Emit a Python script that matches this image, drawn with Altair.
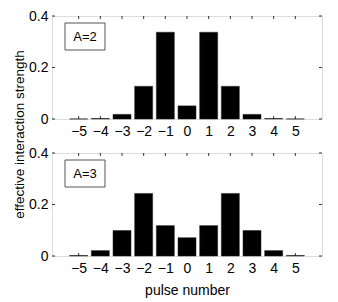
import altair as alt
import pandas as pd

pulses = [-5, -4, -3, -2, -1, 0, 1, 2, 3, 4, 5]
strength_a2 = [0.0003, 0.002, 0.018, 0.127, 0.337, 0.051, 0.337, 0.127, 0.018, 0.002, 0.0003]
strength_a3 = [0.002, 0.021, 0.099, 0.243, 0.118, 0.071, 0.118, 0.243, 0.099, 0.021, 0.002]
x_ticks = [-5, -4, -3, -2, -1, 0, 1, 2, 3, 4, 5]
y_ticks = [0, 0.2, 0.4]
labels = ["A=2", "A=3"]

W, H = 270, 103
FONT = "Liberation Sans"

xs = alt.Scale(domain=[-6, 6], nice=False, zero=False)
ys = alt.Scale(domain=[0, 0.4], nice=False)

xt_df = pd.DataFrame({"t": x_ticks})
yt_df = pd.DataFrame({"t": y_ticks})


def panel(values, label, show_title):
    xaxis = alt.Axis(values=x_ticks, ticks=False, domain=False, grid=False,
                     labelOverlap=False, labelFlush=False,
                     labelPadding=5, labelFontSize=14, labelFont=FONT, labelColor="black",
                     labelExpr="replace(datum.label, '-', '\u2212')",
                     title="pulse number" if show_title else None,
                     titleFont=FONT, titleFontSize=14, titleFontWeight="normal",
                     titleColor="black", titlePadding=8)
    yaxis = alt.Axis(values=y_ticks, ticks=False, domain=False, grid=False,
                     labelOverlap=False, labelFlush=False,
                     labelPadding=4, labelFontSize=14, labelFont=FONT, labelColor="black",
                     labelExpr="datum.value == 0 ? '0' : format(datum.value, '.1f')",
                     title=None)
    df = pd.DataFrame({"pulse": pulses, "s": values})
    bars = alt.Chart(df).mark_bar(size=18, color="black", stroke="#222", strokeWidth=0.5).encode(
        x=alt.X("pulse:Q", scale=xs, axis=xaxis),
        y=alt.Y("s:Q", scale=ys, axis=yaxis),
    )
    xb = alt.Chart(xt_df).mark_rule(color="black", strokeWidth=0.8).encode(
        x=alt.X("t:Q", scale=xs, axis=xaxis), y=alt.value(H), y2=alt.value(H - 3))
    xtp = alt.Chart(xt_df).mark_rule(color="black", strokeWidth=0.8).encode(
        x=alt.X("t:Q", scale=xs, axis=xaxis), y=alt.value(0), y2=alt.value(3))
    yl = alt.Chart(yt_df).mark_rule(color="black", strokeWidth=0.8).encode(
        y=alt.Y("t:Q", scale=ys, axis=yaxis), x=alt.value(0), x2=alt.value(3))
    yr = alt.Chart(yt_df).mark_rule(color="black", strokeWidth=0.8).encode(
        y=alt.Y("t:Q", scale=ys, axis=yaxis), x=alt.value(W - 3), x2=alt.value(W))
    lab_df = pd.DataFrame({"label": [label]})
    box = alt.Chart(lab_df).mark_rect(fill="white", stroke="#555", strokeWidth=1).encode(
        x=alt.value(13), x2=alt.value(53), y=alt.value(7), y2=alt.value(34))
    txt = alt.Chart(lab_df).mark_text(font=FONT, fontSize=13, color="black",
                                      baseline="alphabetic").encode(
        x=alt.value(33), y=alt.value(25), text="label:N")
    layers = [bars, xb, xtp, yl, yr, box, txt]
    if show_title:
        yt = alt.Chart(pd.DataFrame({"t": ["effective interaction strength"]})).mark_text(
            font=FONT, fontSize=13.5, color="black", angle=270, baseline="alphabetic").encode(
            x=alt.value(-28.5), y=alt.value(-18.5), text="t:N")
        layers.append(yt)
    return alt.layer(*layers).properties(width=W, height=H)


top = panel(strength_a2, labels[0], False)
bottom = panel(strength_a3, labels[1], True)

chart = alt.vconcat(top, bottom, spacing=34, bounds="flush").properties(
    padding={"left": 3, "top": 0, "right": 5, "bottom": 5}
).configure_view(stroke="black", strokeWidth=1).configure(background="white")

chart.save("out.html", embed_options={"renderer": "svg", "actions": False})
